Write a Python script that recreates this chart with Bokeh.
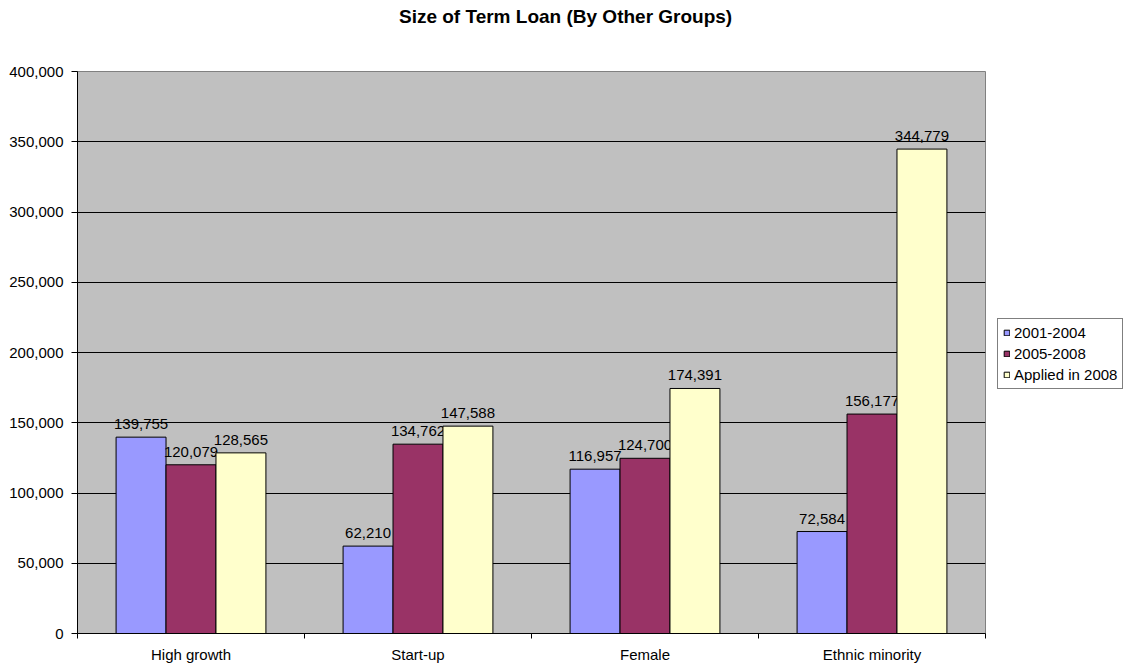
from bokeh.plotting import figure
from bokeh.models import ColumnDataSource, FixedTicker, NumeralTickFormatter, Legend, LegendItem, Range1d
from bokeh.layouts import row, column
from bokeh.core.properties import value
from bokeh.embed import file_html
from bokeh.resources import INLINE

categories = ["High growth", "Start-up", "Female", "Ethnic minority"]
series_names = ["2001-2004", "2005-2008", "Applied in 2008"]
s2001_2004 = [139755, 62210, 116957, 72584]
s2005_2008 = [120079, 134762, 124700, 156177]
s_applied_2008 = [128565, 147588, 174391, 344779]
colors = ["#9999FF", "#993366", "#FFFFCC"]
title_text = "Size of Term Loan (By Other Groups)"

FONT = "Liberation Sans"

# ---- title strip ----
tf = figure(width=986, height=62, output_backend="svg", toolbar_location=None,
            x_range=Range1d(0, 986), y_range=Range1d(0, 62),
            x_axis_type=None, y_axis_type=None,
            min_border_left=0, min_border_right=0, min_border_top=0, min_border_bottom=0)
tf.outline_line_color = None
tf.grid.visible = False
tf.text(x=[530], y=[62 - 16], text=[title_text], text_align="center", text_baseline="middle",
        text_font=value(FONT), text_font_size="19px", text_font_style="bold", text_color="black")

# ---- main chart ----
p = figure(width=986, height=605, output_backend="svg", toolbar_location=None,
           x_range=Range1d(0, 4), y_range=Range1d(0, 400000),
           min_border_left=77, min_border_right=1, min_border_top=9, min_border_bottom=34)
p.background_fill_color = "#C0C0C0"
p.outline_line_color = "#808080"
p.outline_line_width = 1

bar_w = 0.22
offsets = [-bar_w, 0.0, bar_w]
renderers = []
for vals, off, col in zip([s2001_2004, s2005_2008, s_applied_2008], offsets, colors):
    xs = [i + 0.5 + off for i in range(len(categories))]
    src = ColumnDataSource(dict(x=xs, top=vals, lab=[f"{v:,}" for v in vals]))
    r = p.vbar(x="x", top="top", width=bar_w, bottom=0, source=src,
               fill_color=col, line_color="black", line_width=1)
    renderers.append(r)
    p.text(x="x", y="top", text="lab", source=src, text_align="center", text_baseline="bottom",
           y_offset=-8, text_font=value(FONT), text_font_size="15px", text_color="black")

p.yaxis.ticker = FixedTicker(ticks=list(range(0, 400001, 50000)))
p.yaxis.formatter = NumeralTickFormatter(format="0,0")
p.yaxis.major_label_text_font = FONT
p.yaxis.major_label_text_font_size = "15px"
p.yaxis.major_label_text_color = "black"
p.yaxis.major_tick_in = 0
p.yaxis.major_tick_out = 6
p.yaxis.major_tick_line_color = "black"
p.yaxis.minor_tick_line_color = None
p.yaxis.axis_line_color = "black"
p.yaxis.major_label_standoff = 8

p.xaxis.ticker = FixedTicker(ticks=[0.5, 1.5, 2.5, 3.5], minor_ticks=[0, 1, 2, 3, 4])
p.xaxis.major_label_overrides = {0.5: categories[0], 1.5: categories[1], 2.5: categories[2], 3.5: categories[3]}
p.xaxis.major_tick_line_color = None
p.xaxis.minor_tick_in = 0
p.xaxis.minor_tick_out = 5
p.xaxis.minor_tick_line_color = "black"
p.xaxis.major_label_text_font = FONT
p.xaxis.major_label_text_font_size = "15px"
p.xaxis.major_label_text_color = "black"
p.xaxis.major_label_standoff = 6
p.xaxis.axis_line_color = "black"

p.xgrid.grid_line_color = None
p.ygrid.grid_line_color = "black"
p.ygrid.grid_line_alpha = 1.0

# ---- legend strip ----
lf = figure(width=138, height=667, output_backend="svg", toolbar_location=None,
            x_range=Range1d(0, 1), y_range=Range1d(0, 1),
            x_axis_type=None, y_axis_type=None,
            min_border_left=0, min_border_right=0, min_border_top=0, min_border_bottom=0)
lf.outline_line_color = None
lf.grid.visible = False
leg_renderers = []
for col in colors:
    # swatch-only renderers placed outside the visible range
    leg_renderers.append(lf.vbar(x=[5], top=[5], bottom=[4], width=0.1,
                                 fill_color=col, line_color="black", line_width=1))

legend = Legend(items=[LegendItem(label=n, renderers=[r]) for n, r in zip(series_names, leg_renderers)],
                location=(11, 278), orientation="vertical",
                label_text_font=FONT, label_text_font_size="15px", label_text_color="black",
                glyph_width=7, glyph_height=7, label_standoff=4, spacing=4,
                padding=5, margin=0, label_height=16,
                border_line_color="black", border_line_width=1,
                background_fill_color="white", background_fill_alpha=1.0)
lf.add_layout(legend, "center")

layout = row(column(tf, p, spacing=0), lf, spacing=0)
open("out.html", "w").write(file_html(layout, INLINE))
